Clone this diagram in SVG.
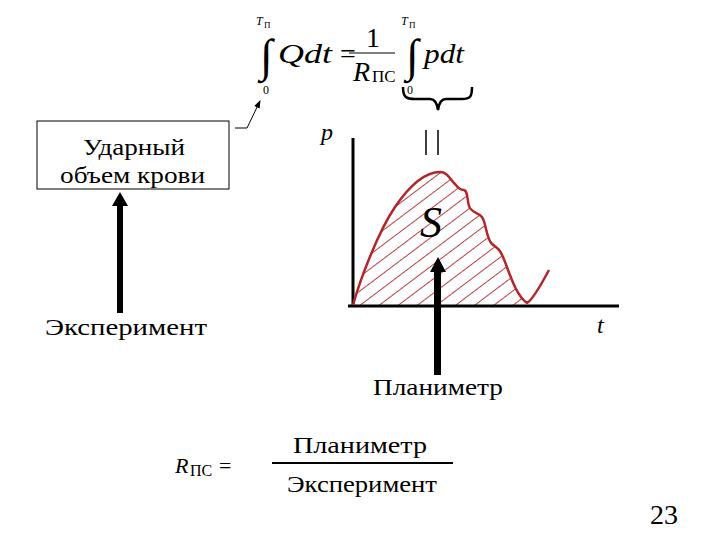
<svg xmlns="http://www.w3.org/2000/svg" width="720" height="540" viewBox="0 0 720 540">
<style>
text{font-family:'Liberation Serif','DejaVu Serif',serif;fill:#000}
.i{font-style:italic}
.ax{stroke:#000;stroke-width:3;fill:none}
.red{stroke:#b3262a;stroke-width:2.5;fill:none}
.thin{stroke:#000;stroke-width:1;fill:none}
</style>
<defs>
<pattern id="hatch" patternUnits="userSpaceOnUse" width="40" height="11.5" patternTransform="rotate(-37)">
<line x1="0" y1="0.5" x2="40" y2="0.5" stroke="#b3262a" stroke-width="0.9"/>
</pattern>
<clipPath id="area">
<path d="M353,305 C360,280 378,232 395,207 C410,185 425,172 440,172 C448,172 450,180 455,184 C458,188 460,190 464,190 C468,191 467,200 469,206 C471,213 478,212 482,217 C486,222 486,238 492,244 C497,248 499,248 503,257 C508,268 515,295 527,303 L527,306 L353,306 Z"/>
</clipPath>
<marker id="sm" markerWidth="8" markerHeight="8" refX="7" refY="4" orient="auto" markerUnits="userSpaceOnUse">
<path d="M0,1 L8,4 L0,7 Z" fill="#000"/>
</marker>
</defs>
<rect width="720" height="540" fill="#fff"/>

<g id="formula-top">
<text x="260" y="71" font-size="46">∫</text>
<text class="i" x="256" y="25" font-size="12">T</text>
<text x="264" y="28" font-size="9">П</text>
<text x="263" y="94" font-size="12">0</text>
<text class="i" x="278" y="63" font-size="28" textLength="54" lengthAdjust="spacingAndGlyphs">Qdt</text>
<text x="340" y="63" font-size="28">=</text>
<text x="366" y="47" font-size="28">1</text>
<line class="thin" x1="349" y1="53" x2="395" y2="53"/>
<text class="i" x="353" y="81" font-size="28">R</text>
<text x="372" y="82" font-size="17">ПС</text>
<text x="406" y="71" font-size="46">∫</text>
<text class="i" x="401" y="25" font-size="12">T</text>
<text x="409" y="28" font-size="9">П</text>
<text x="407" y="94" font-size="12">0</text>
<text class="i" x="424" y="63" font-size="28" textLength="40" lengthAdjust="spacingAndGlyphs">pdt</text>
</g>

<g id="brace">
<path d="M403,87 C403,97 406,99 415,99 L430,99 C435,99 437,103 438,110 C439,103 441,99 446,99 L462,99 C470,99 472,97 472,87" fill="none" stroke="#000" stroke-width="2.5"/>
<line x1="426" y1="130" x2="426" y2="155" stroke="#000" stroke-width="1.5"/>
<line x1="438" y1="130" x2="438" y2="155" stroke="#000" stroke-width="1.5"/>
</g>

<g id="box">
<rect x="37" y="121" width="192" height="68" fill="#fff" stroke="#000" stroke-width="1"/>
<text x="83" y="155" font-size="24" textLength="102" lengthAdjust="spacingAndGlyphs">Ударный</text>
<text x="60" y="183" font-size="24" textLength="145" lengthAdjust="spacingAndGlyphs">объем крови</text>
</g>

<g id="experiment">
<text x="45" y="335" font-size="24" textLength="162" lengthAdjust="spacingAndGlyphs">Эксперимент</text>
</g>

<g id="graph">
<rect x="353" y="160" width="180" height="147" fill="url(#hatch)" clip-path="url(#area)"/>
<line class="ax" x1="353" y1="138" x2="353" y2="307"/>
<line class="ax" x1="348" y1="306" x2="619" y2="306"/>
<path class="red" d="M353,305 C360,280 378,232 395,207 C410,185 425,172 440,172 C448,172 450,180 455,184 C458,188 460,190 464,190 C468,191 467,200 469,206 C471,213 478,212 482,217 C486,222 486,238 492,244 C497,248 499,248 503,257 C508,268 515,295 527,303 C533,300 542,283 549,270"/>
<text class="i" x="321" y="140" font-size="24">p</text>
<text class="i" x="597" y="333" font-size="24">t</text>
<text class="i" x="420" y="237" font-size="44">S</text>
</g>

<g id="planimeter">
<text x="373" y="395" font-size="24" textLength="130" lengthAdjust="spacingAndGlyphs">Планиметр</text>
</g>

<g id="formula-bottom">
<text class="i" x="175" y="473" font-size="22">R</text>
<text x="190" y="476" font-size="16">ПС</text>
<text x="219" y="473" font-size="22">=</text>
<text x="293" y="453" font-size="24" textLength="134" lengthAdjust="spacingAndGlyphs">Планиметр</text>
<line x1="272" y1="463" x2="453" y2="463" stroke="#000" stroke-width="2"/>
<text x="287" y="492" font-size="24" textLength="150" lengthAdjust="spacingAndGlyphs">Эксперимент</text>
</g>

<g id="page-number">
<text x="650" y="524" font-size="28">23</text>
</g>

<g id="connectors">
<polyline points="235,128 247,128 260,101" fill="none" stroke="#000" stroke-width="1" marker-end="url(#sm)"/>
<line x1="120" y1="313" x2="120" y2="204" stroke="#000" stroke-width="6"/>
<path d="M112,206 L120,192 L128,206 Z" fill="#000"/>
<line x1="437.5" y1="375" x2="437.5" y2="270" stroke="#000" stroke-width="7"/>
<path d="M430,272 L438,257 L446,272 Z" fill="#000"/>
</g>
</svg>
